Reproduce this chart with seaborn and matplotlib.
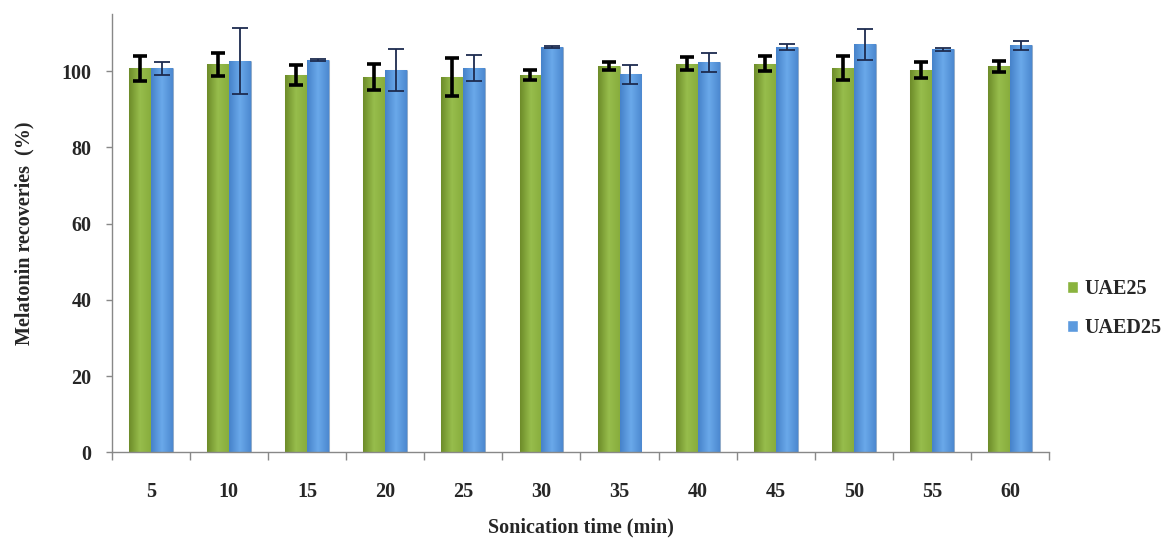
import matplotlib
matplotlib.use("Agg")
import matplotlib.pyplot as plt
from matplotlib.colors import LinearSegmentedColormap
import seaborn as sns
import pandas as pd
import numpy as np

# Sonication time groups
times = ["5", "10", "15", "20", "25", "30", "35", "40", "45", "50", "55", "60"]

# Melatonin recoveries (%) and their standard deviations
uae25 = [100.8, 101.8, 99.0, 98.4, 98.4, 99.0, 101.3, 102.0, 102.0, 100.8, 100.3, 101.3]
uae25_sd = [3.3, 3.0, 2.5, 3.4, 5.0, 1.4, 1.0, 1.6, 2.0, 3.1, 2.0, 1.4]
uaed25 = [100.8, 102.6, 102.9, 100.3, 100.8, 106.3, 99.2, 102.4, 106.3, 107.0, 105.7, 106.8]
uaed25_sd = [1.7, 8.6, 0.3, 5.6, 3.4, 0.3, 2.5, 2.5, 0.8, 4.0, 0.3, 1.2]

series_names = ["UAE25", "UAED25"]
colors = {"UAE25": "#8ab33e", "UAED25": "#5c9ade"}
# horizontal shading across each bar (left edge, middle, right edge)
shades = {
    "UAE25": ["#6d8c29", "#97bd4c", "#88ad3d"],
    "UAED25": ["#4682c9", "#6aa9ea", "#4c88d0"],
}

df = pd.DataFrame({
    "time": times * 2,
    "recovery": uae25 + uaed25,
    "sd": uae25_sd + uaed25_sd,
    "series": [series_names[0]] * len(times) + [series_names[1]] * len(times),
})

sns.set_style("white")
plt.rcParams["font.family"] = ["Liberation Serif", "DejaVu Serif"]
FS = 14.5

fig = plt.figure(figsize=(11.75, 5.39), dpi=100)
ax = fig.add_axes([0.095, 0.161, 0.798, 0.813])

sns.barplot(data=df, x="time", y="recovery", hue="series", order=times,
            hue_order=series_names, palette=colors, width=0.56,
            errorbar=None, saturation=1, ax=ax, legend=True)

n = len(times)
bars = [p for p in ax.patches if p.get_height() > 0][: 2 * n]
grad = np.linspace(0, 1, 64).reshape(1, -1)
for i, name in enumerate(series_names):
    cmap = LinearSegmentedColormap.from_list(name, shades[name])
    for b in bars[i * n:(i + 1) * n]:
        b.set_edgecolor((0, 0, 0, 0.15))
        b.set_linewidth(0.8)
        x0, w, h = b.get_x(), b.get_width(), b.get_height()
        im = ax.imshow(grad, cmap=cmap, aspect="auto", extent=(x0, x0 + w, 0, h),
                       zorder=b.get_zorder() + 0.1, interpolation="bilinear")
        im.set_clip_path(b)

# error bars drawn on top of each bar
err_style = {
    "UAE25": dict(color="black", elinewidth=2.6, capsize=5, capthick=2.6),
    "UAED25": dict(color="#1d2b4f", elinewidth=1.3, capsize=6, capthick=1.3),
}
for i, name in enumerate(series_names):
    sub = bars[i * n:(i + 1) * n]
    xs = [b.get_x() + b.get_width() / 2 for b in sub]
    hs = [b.get_height() for b in sub]
    sds = df[df.series == name]["sd"].values
    ax.errorbar(xs, hs, yerr=sds, fmt="none", zorder=5, **err_style[name])

ax.set_ylim(0, 115)
ax.set_xlim(-0.5, n - 0.5)
ax.set_yticks([0, 20, 40, 60, 80, 100])

# spines and ticks
for s in ["top", "right"]:
    ax.spines[s].set_visible(False)
for s in ["left", "bottom"]:
    ax.spines[s].set_color("#888888")
    ax.spines[s].set_linewidth(1.0)

ax.tick_params(axis="y", which="major", left=True, length=4, width=1,
               color="#888888", labelsize=FS, pad=10.5)
ax.tick_params(axis="x", which="major", bottom=False, labelsize=FS, pad=18)
ax.set_xticks(np.arange(-0.5, n, 1), minor=True)
ax.tick_params(axis="x", which="minor", bottom=True, length=6, width=1,
               color="#888888")
for lab in ax.get_xticklabels() + ax.get_yticklabels():
    lab.set_fontweight("bold")

ax.set_xlabel("Sonication time (min)", fontsize=FS, fontweight="bold")
ax.set_ylabel("Melatonin recoveries  (%)", fontsize=FS, fontweight="bold")
ax.xaxis.set_label_coords(0.5, -0.15)
ax.yaxis.set_label_coords(-0.082, 0.5)

leg = ax.legend(loc="center left", bbox_to_anchor=(1.0, 0.327), frameon=False,
                handlelength=0.55, handleheight=0.55, handletextpad=0.3,
                labelspacing=0.95, fontsize=FS)
for t in leg.get_texts():
    t.set_fontweight("bold")

fig.savefig("out.png", dpi=100)
